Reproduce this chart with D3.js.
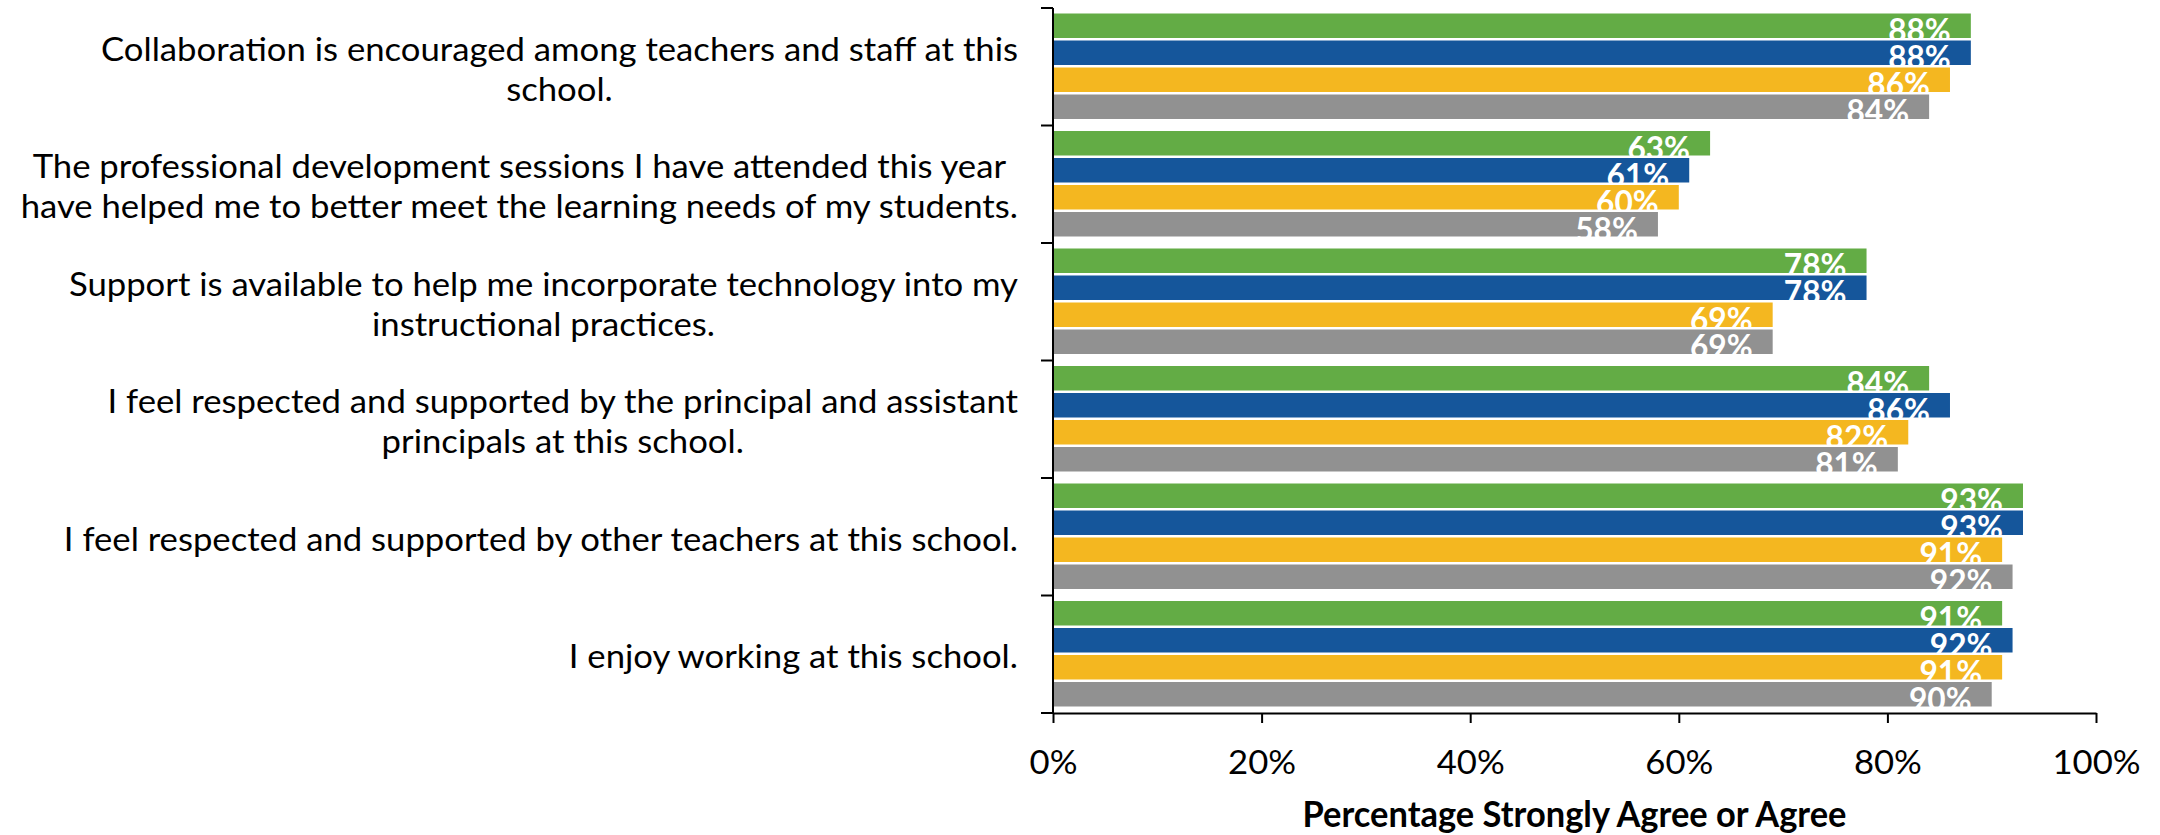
<!DOCTYPE html>
<html><head><meta charset="utf-8">
<script src="https://cdn.jsdelivr.net/npm/d3@7"></script>
<style>html,body{margin:0;padding:0;background:#fff;}svg{display:block;}</style>
</head><body>
<svg id="chart" width="2160" height="835"></svg>
<script>
// ---- data ----
const categories = [
  ["Collaboration is encouraged among teachers and staff at this", "school."],
  ["The professional development sessions I have attended this year", "have helped me to better meet the learning needs of my students."],
  ["Support is available to help me incorporate technology into my", "instructional practices."],
  ["I feel respected and supported by the principal and assistant", "principals at this school."],
  ["I feel respected and supported by other teachers at this school."],
  ["I enjoy working at this school."]
];
const seriesKeys = ["s1", "s2", "s3", "s4"];
const seriesColors = ["#63AC45", "#15569B", "#F4B720", "#919191"];
const s1Values = [88, 63, 78, 84, 93, 91];
const s2Values = [88, 61, 78, 86, 93, 92];
const s3Values = [86, 60, 69, 82, 91, 91];
const s4Values = [84, 58, 69, 81, 92, 90];
const xTicks = [0, 20, 40, 60, 80, 100];
const xTitle = "Percentage Strongly Agree or Agree";

const allValues = [s1Values, s2Values, s3Values, s4Values];
const catIds = categories.map((c, i) => i);

const svg = d3.select("#chart");
const FONT = "Lato, Carlito, Calibri, 'Open Sans', sans-serif";

const x = d3.scaleLinear().domain([0, 100]).range([1053, 2096]);
const y = d3.scaleBand().domain(catIds).range([8, 713]).padding(0);
const ySub = d3.scaleBand().domain(seriesKeys).range([5.5, 111]).paddingInner(0.0926).paddingOuter(0);
const color = d3.scaleOrdinal().domain(seriesKeys).range(seriesColors);

function fit(sel, k) {
  sel.each(function () {
    const l = this.getComputedTextLength();
    this.setAttribute("textLength", l * k);
    this.setAttribute("lengthAdjust", "spacingAndGlyphs");
    this.__w = l * k;
  });
}

// measure factors
const probe = svg.append("text").attr("font-family", FONT).attr("font-size", 33).text(categories[0][0]);
const k = 917 / probe.node().getComputedTextLength();
probe.attr("font-weight", "bold").text("93%");
const kb = 62.7 / probe.node().getComputedTextLength();
probe.attr("font-size", 36).text(xTitle);
const kt = 544 / probe.node().getComputedTextLength();
probe.remove();

// bars + labels, ordered so later bars overlap earlier label overflow
const flat = [];
catIds.forEach(ci => seriesKeys.forEach((s, si) => flat.push({ ci, s, v: allValues[si][ci] })));

const cells = svg.append("g").selectAll("g").data(flat).join("g");
cells.append("rect")
  .attr("x", x(0))
  .attr("y", d => y(d.ci) + ySub(d.s))
  .attr("width", d => x(d.v) - x(0))
  .attr("height", ySub.bandwidth())
  .attr("fill", d => color(d.s));
const vlab = cells.append("text")
  .attr("font-family", FONT).attr("font-size", 33).attr("font-weight", "bold")
  .attr("fill", "#fff")
  .attr("y", d => y(d.ci) + ySub(d.s) + 28.5)
  .text(d => d.v + "%");
fit(vlab, kb);
vlab.attr("x", function (d) { return x(d.v) - 20 - this.__w; });

// category labels
const catG = svg.append("g").selectAll("g").data(catIds).join("g");
catG.each(function (ci) {
  const g = d3.select(this);
  const lines = categories[ci];
  const n = lines.length;
  const c = y(ci) + y.bandwidth() / 2;
  const t = g.selectAll("text").data(lines).join("text")
    .attr("font-family", FONT).attr("font-size", 33).attr("fill", "#000")
    .attr("y", (d, i) => c + 14 + (i - (n - 1) / 2) * 40)
    .text(d => d);
  fit(t, k);
  const maxW = d3.max(t.nodes(), nd => nd.__w);
  const center = 1018 - maxW / 2;
  t.attr("x", function () { return center - this.__w / 2; });
});

// y axis
const yAxisG = svg.append("g");
yAxisG.append("line").attr("x1", x(0)).attr("x2", x(0)).attr("y1", 8).attr("y2", 713)
  .attr("stroke", "#000").attr("stroke-width", 2);
const yBounds = catIds.map(ci => y(ci)).concat([y.range()[1]]);
yAxisG.selectAll("line.t").data(yBounds).join("line").attr("class", "t")
  .attr("x1", x(0) - 12).attr("x2", x(0)).attr("y1", d => d).attr("y2", d => d)
  .attr("stroke", "#000").attr("stroke-width", 2);

// x axis
const xAxisG = svg.append("g").attr("transform", "translate(0,713)");
const xAxis = d3.axisBottom(x).tickValues(xTicks).tickSize(10).tickSizeOuter(0).tickFormat(d => d + "%");
xAxisG.call(xAxis);
xAxisG.select(".domain").attr("stroke", "#000").attr("stroke-width", 2);
xAxisG.selectAll(".tick line").attr("stroke", "#000").attr("stroke-width", 2);
const tl = xAxisG.selectAll(".tick text")
  .attr("font-family", FONT).attr("font-size", 33).attr("fill", "#000")
  .attr("dy", null).attr("y", 61).attr("text-anchor", "start");
fit(tl, k);
tl.attr("x", function () { return -this.__w / 2; });

// x title
const tt = svg.append("text").attr("font-family", FONT).attr("font-size", 36).attr("font-weight", "bold")
  .attr("fill", "#000").attr("y", 827).text(xTitle);
fit(tt, kt);
tt.attr("x", function () { return (x(0) + x(100)) / 2 - this.__w / 2; });
</script>
</body></html>
